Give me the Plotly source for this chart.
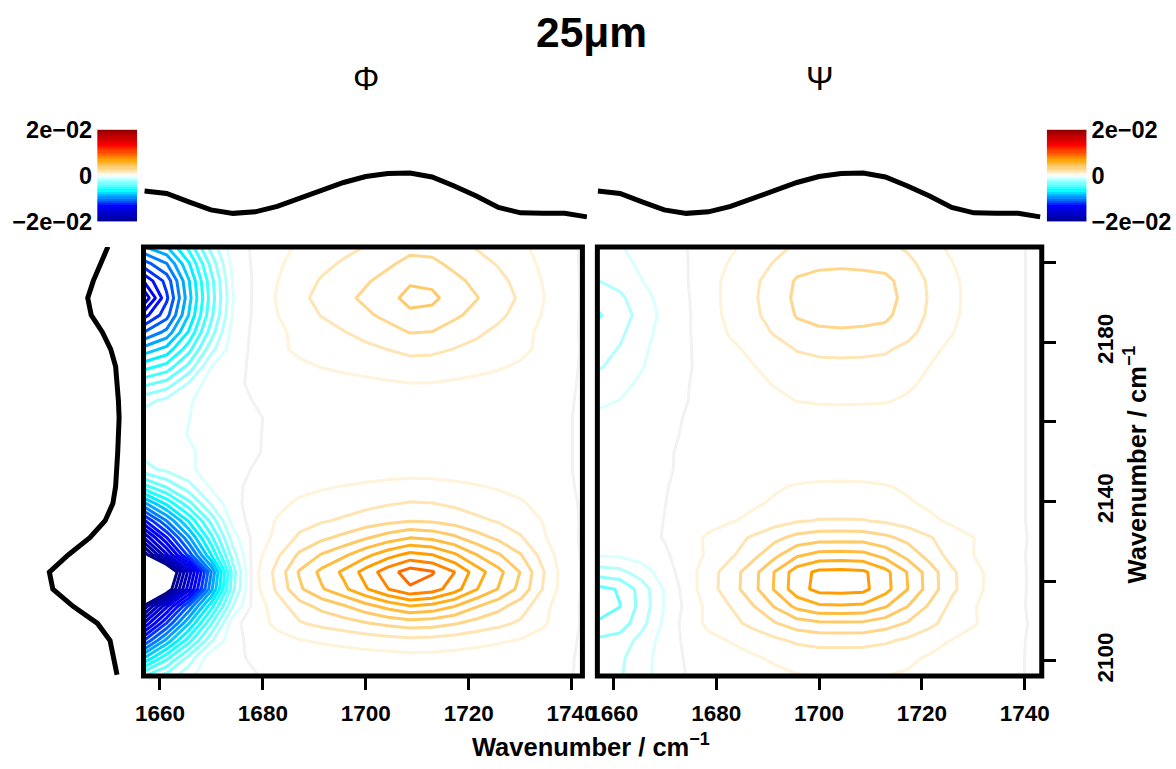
import plotly.graph_objects as go

W, H = 1176, 769
FONT = "Liberation Sans, Arial, Helvetica, sans-serif"

# ---------------- data ----------------
pump_cm = [1657.0, 1661.3, 1665.6, 1669.9, 1674.2, 1678.5, 1682.8, 1687.1, 1691.4, 1695.7,
           1700.0, 1704.3, 1708.6, 1712.9, 1717.2, 1721.5, 1725.8, 1730.1, 1734.4, 1738.7, 1743.0]
probe_cm = [2096.5, 2100.8, 2105.1, 2109.4, 2113.7, 2118.0, 2122.3, 2126.6, 2130.9, 2135.2,
            2139.5, 2143.8, 2148.1, 2152.4, 2156.7, 2161.0, 2165.3, 2169.6, 2173.9, 2178.2,
            2182.5, 2186.8, 2191.1, 2195.4, 2199.7, 2204.0]

# 2D spectra in units of 1e-3 (rows = probe, ascending; cols = pump)
phi_mOD = [
    [-4.2, -2.76, -1.31, -0.3, -0.1, -0.02, 0.16, 0.2, 0.22, 0.24, 0.26, 0.27, 0.29, 0.28, 0.26, 0.24, 0.22, 0.2, 0.16, 0.12, -0.2],
    [-8.0, -5.33, -2.67, -0.3, -0.1, 0.08, 0.31, 0.42, 0.49, 0.54, 0.61, 0.66, 0.71, 0.69, 0.64, 0.56, 0.49, 0.41, 0.29, 0.15, -0.2],
    [-11.9, -8.66, -5.43, -2.19, -0.2, 0.21, 0.65, 0.95, 1.12, 1.26, 1.43, 1.58, 1.7, 1.65, 1.5, 1.3, 1.12, 0.92, 0.59, 0.24, -0.2],
    [-15.8, -11.92, -8.04, -4.16, -0.27, 0.5, 1.26, 1.9, 2.26, 2.55, 2.91, 3.23, 3.48, 3.38, 3.07, 2.63, 2.26, 1.83, 1.15, 0.4, -0.2],
    [-19.6, -15.21, -10.82, -6.43, -1.98, 0.48, 1.5, 2.58, 3.29, 3.88, 4.63, 5.34, 5.93, 5.68, 5.02, 4.07, 3.32, 2.49, 1.34, 0.35, -0.2],
    [-27.4, -21.4, -15.4, -9.37, -3.25, 0.69, 2.19, 3.82, 4.89, 5.77, 6.89, 7.96, 8.84, 8.47, 7.45, 6.05, 4.94, 3.68, 1.96, 0.47, -0.2],
    [-29.5, -23.0, -16.6, -10.1, -3.5, 0.75, 2.35, 4.1, 5.25, 6.2, 7.4, 8.55, 9.5, 9.1, 8.02, 6.5, 5.3, 3.95, 2.1, 0.5, -0.2],
    [-20.7, -16.2, -11.6, -7.08, -2.45, 0.6, 1.83, 3.18, 4.07, 4.8, 5.72, 6.61, 7.34, 7.03, 6.18, 5.03, 4.1, 3.06, 1.64, 0.41, -0.2],
    [-16.9, -13.05, -9.21, -5.36, -1.47, 0.41, 1.27, 2.18, 2.78, 3.27, 3.9, 4.49, 4.99, 4.78, 4.21, 3.43, 2.8, 2.1, 1.14, 0.31, -0.2],
    [-13.1, -9.97, -6.84, -3.71, -0.58, 0.44, 1.07, 1.6, 1.9, 2.14, 2.44, 2.71, 2.92, 2.84, 2.57, 2.21, 1.9, 1.54, 0.97, 0.35, -0.2],
    [-9.2, -6.77, -4.34, -1.92, -0.2, 0.3, 0.78, 1.15, 1.36, 1.53, 1.74, 1.92, 2.07, 2.02, 1.83, 1.58, 1.36, 1.11, 0.71, 0.28, -0.2],
    [-5.3, -3.82, -2.34, -0.86, -0.15, 0.18, 0.48, 0.75, 0.9, 1.02, 1.17, 1.3, 1.41, 1.37, 1.24, 1.06, 0.9, 0.72, 0.44, 0.15, -0.2],
    [-2.3, -1.75, -1.2, -0.5, -0.15, 0.04, 0.19, 0.3, 0.36, 0.41, 0.47, 0.52, 0.56, 0.55, 0.49, 0.42, 0.36, 0.29, 0.17, 0.1, -0.2],
    [-1.7, -1.45, -1.14, -0.68, -0.26, -0.05, 0.15, 0.18, 0.2, 0.22, 0.25, 0.28, 0.3, 0.29, 0.27, 0.24, 0.2, 0.16, 0.12, 0.1, -0.2],
    [-1.45, -1.23, -0.97, -0.58, -0.22, -0.04, 0.1, 0.1, 0.1, 0.11, 0.12, 0.12, 0.12, 0.12, 0.12, 0.11, 0.1, 0.1, 0.1, 0.1, -0.2],
    [-1.5, -1.28, -1.02, -0.6, -0.23, -0.05, 0.1, 0.1, 0.1, 0.1, 0.1, 0.1, 0.1, 0.1, 0.1, 0.1, 0.1, 0.1, 0.1, 0.1, -0.2],
    [-2.34, -1.71, -1.12, -0.45, -0.12, 0.02, 0.2, 0.25, 0.28, 0.31, 0.33, 0.36, 0.39, 0.39, 0.36, 0.33, 0.29, 0.25, 0.2, 0.14, -0.2],
    [-4.25, -3.6, -1.91, -0.4, -0.1, 0.09, 0.4, 0.54, 0.64, 0.72, 0.8, 0.89, 0.98, 0.97, 0.87, 0.78, 0.68, 0.56, 0.39, 0.22, -0.2],
    [-6.4, -5.64, -3.71, -1.03, -0.25, 0.17, 0.61, 0.85, 1.03, 1.17, 1.3, 1.45, 1.61, 1.58, 1.42, 1.26, 1.09, 0.88, 0.6, 0.31, -0.2],
    [-8.56, -7.64, -5.36, -2.38, -0.4, 0.19, 0.83, 1.16, 1.42, 1.61, 1.8, 2.01, 2.24, 2.2, 1.97, 1.74, 1.51, 1.21, 0.8, 0.4, -0.2],
    [-10.96, -9.69, -6.88, -3.54, -0.5, 0.18, 0.8, 1.26, 1.64, 1.96, 2.27, 2.62, 3.04, 2.97, 2.55, 2.17, 1.78, 1.33, 0.77, 0.31, -0.2],
    [-13.37, -11.38, -7.96, -4.3, -0.9, 0.2, 0.98, 1.55, 2.04, 2.43, 2.83, 3.27, 3.8, 3.71, 3.18, 2.7, 2.21, 1.64, 0.94, 0.36, -0.2],
    [-15.78, -12.19, -8.39, -4.59, -1.05, 0.2, 1.1, 1.75, 2.3, 2.75, 3.2, 3.7, 4.3, 4.2, 3.6, 3.05, 2.5, 1.85, 1.05, 0.4, -0.2],
    [-13.82, -11.62, -8.09, -4.39, -0.9, 0.16, 0.98, 1.59, 2.08, 2.49, 2.89, 3.34, 3.88, 3.79, 3.25, 2.76, 2.26, 1.68, 0.96, 0.37, -0.2],
    [-11.41, -10.04, -7.12, -3.71, -0.6, 0.15, 0.86, 1.35, 1.77, 2.11, 2.46, 2.84, 3.29, 3.22, 2.76, 2.34, 1.92, 1.43, 0.82, 0.33, -0.2],
    [-9.0, -8.04, -5.67, -2.62, -0.4, 0.15, 0.72, 1.12, 1.46, 1.74, 2.02, 2.33, 2.7, 2.64, 2.27, 1.93, 1.59, 1.19, 0.69, 0.29, -0.2],
]

psi_mOD = [
    [-2.3, -2.09, -1.36, -0.51, 0.02, 0.33, 0.47, 0.62, 0.8, 0.97, 1.05, 1.05, 1.04, 1.02, 0.92, 0.65, 0.45, 0.32, 0.17, 0.08, -0.2],
    [-2.4, -2.18, -1.42, -0.52, 0.09, 0.48, 0.67, 0.89, 1.14, 1.38, 1.49, 1.5, 1.49, 1.38, 1.18, 0.9, 0.63, 0.43, 0.22, 0.08, -0.2],
    [-2.8, -2.55, -1.65, -0.58, 0.2, 0.75, 1.05, 1.39, 1.79, 2.17, 2.34, 2.35, 2.33, 2.15, 1.82, 1.4, 0.97, 0.67, 0.35, 0.1, -0.2],
    [-3.9, -3.55, -2.3, -0.79, 0.39, 1.22, 1.7, 2.26, 2.91, 3.53, 3.8, 3.82, 3.79, 3.45, 2.9, 2.24, 1.56, 1.08, 0.55, 0.15, -0.2],
    [-4.4, -4.02, -2.6, -0.98, 0.25, 1.28, 2.02, 2.92, 4.08, 5.28, 5.84, 5.88, 5.8, 5.08, 4.02, 2.84, 1.76, 1.08, 0.44, 0.1, -0.2],
    [-4.3, -3.91, -2.54, -0.93, 0.4, 1.6, 2.52, 3.65, 5.1, 6.6, 7.3, 7.35, 7.25, 6.35, 5.02, 3.55, 2.2, 1.35, 0.55, 0.12, -0.2],
    [-2.5, -2.28, -1.48, -0.5, 0.51, 1.58, 2.48, 3.61, 5.05, 6.53, 7.23, 7.28, 7.18, 6.29, 4.95, 3.51, 2.18, 1.34, 0.54, 0.12, -0.2],
    [-0.9, -0.82, -0.53, -0.15, 0.45, 1.17, 1.83, 2.66, 3.72, 4.82, 5.33, 5.37, 5.29, 4.64, 3.65, 2.59, 1.61, 0.99, 0.4, 0.1, -0.2],
    [-0.4, -0.36, -0.24, 0.04, 0.62, 1.15, 1.6, 2.13, 2.74, 3.32, 3.58, 3.6, 3.57, 3.23, 2.7, 2.09, 1.46, 1.01, 0.51, 0.14, -0.2],
    [-0.3, -0.27, -0.18, 0.01, 0.35, 0.66, 0.92, 1.22, 1.57, 1.9, 2.05, 2.06, 2.04, 1.85, 1.54, 1.19, 0.83, 0.58, 0.29, 0.1, -0.2],
    [-0.3, -0.27, -0.18, -0.02, 0.25, 0.47, 0.65, 0.87, 1.12, 1.36, 1.46, 1.47, 1.46, 1.32, 1.1, 0.85, 0.6, 0.41, 0.21, 0.1, -0.2],
    [-0.3, -0.27, -0.18, -0.05, 0.2, 0.37, 0.52, 0.7, 0.89, 1.08, 1.17, 1.18, 1.16, 1.05, 0.88, 0.68, 0.48, 0.33, 0.17, 0.1, -0.2],
    [-0.3, -0.27, -0.18, -0.07, 0.1, 0.19, 0.26, 0.35, 0.45, 0.54, 0.58, 0.59, 0.58, 0.53, 0.44, 0.34, 0.24, 0.17, 0.12, 0.1, -0.2],
    [-0.35, -0.32, -0.2, -0.08, 0.1, 0.12, 0.14, 0.17, 0.2, 0.24, 0.26, 0.26, 0.25, 0.23, 0.19, 0.15, 0.12, 0.1, 0.1, 0.1, -0.2],
    [-0.5, -0.41, -0.25, -0.12, 0.06, 0.1, 0.1, 0.11, 0.15, 0.19, 0.2, 0.21, 0.2, 0.2, 0.17, 0.11, 0.1, 0.1, 0.1, 0.1, -0.2],
    [-0.8, -0.66, -0.4, -0.19, 0.04, 0.13, 0.25, 0.35, 0.48, 0.61, 0.65, 0.66, 0.65, 0.63, 0.52, 0.36, 0.24, 0.12, 0.1, 0.1, -0.2],
    [-1.2, -0.98, -0.6, -0.29, -0.02, 0.22, 0.42, 0.59, 0.8, 1.02, 1.09, 1.1, 1.09, 1.06, 0.88, 0.61, 0.4, 0.21, 0.1, 0.1, -0.2],
    [-1.6, -1.31, -0.8, -0.38, -0.05, 0.29, 0.55, 0.78, 1.05, 1.34, 1.43, 1.45, 1.43, 1.39, 1.16, 0.8, 0.53, 0.27, 0.11, 0.1, -0.2],
    [-2.1, -1.72, -1.05, -0.5, -0.12, 0.33, 0.68, 0.96, 1.3, 1.66, 1.77, 1.79, 1.77, 1.72, 1.43, 0.99, 0.65, 0.34, 0.13, 0.1, -0.2],
    [-2.35, -1.93, -1.18, -0.56, -0.13, 0.41, 0.83, 1.18, 1.6, 2.05, 2.18, 2.21, 2.18, 2.11, 1.76, 1.22, 0.8, 0.42, 0.16, 0.1, -0.2],
    [-2.7, -2.21, -1.35, -0.65, -0.14, 0.55, 1.09, 1.55, 2.1, 2.69, 2.86, 2.9, 2.86, 2.77, 2.31, 1.6, 1.05, 0.55, 0.21, 0.1, -0.2],
    [-3.1, -2.54, -1.55, -0.74, -0.15, 0.62, 1.25, 1.78, 2.4, 3.07, 3.26, 3.31, 3.26, 3.17, 2.64, 1.82, 1.2, 0.62, 0.24, 0.1, -0.2],
    [-2.7, -2.21, -1.35, -0.65, -0.12, 0.66, 1.3, 1.85, 2.5, 3.2, 3.4, 3.45, 3.4, 3.3, 2.75, 1.9, 1.25, 0.65, 0.25, 0.1, -0.2],
    [-2.02, -1.64, -1.02, -0.48, -0.06, 0.68, 1.26, 1.79, 2.43, 3.1, 3.3, 3.35, 3.3, 3.2, 2.67, 1.84, 1.21, 0.63, 0.24, 0.1, -0.2],
    [-1.6, -1.31, -0.8, -0.38, -0.05, 0.58, 1.08, 1.54, 2.08, 2.66, 2.82, 2.86, 2.82, 2.74, 2.28, 1.58, 1.04, 0.54, 0.21, 0.1, -0.2],
    [-1.3, -1.07, -0.65, -0.31, -0.03, 0.47, 0.87, 1.24, 1.68, 2.14, 2.28, 2.31, 2.28, 2.21, 1.84, 1.27, 0.84, 0.44, 0.17, 0.1, -0.2],
]

# linear (marginal) spectra, normalised
pump_spectrum = [0.62, 0.57, 0.40, 0.24, 0.17, 0.20, 0.31, 0.47, 0.63, 0.79, 0.91, 0.97, 0.98,
                 0.90, 0.72, 0.52, 0.29, 0.18, 0.17, 0.17, 0.10]
probe_spectrum = [0.03, 0.08, 0.13, 0.31, 0.66, 0.95, 1.00, 0.73, 0.42, 0.20, 0.09, 0.05, 0.03,
                  0.02, 0.01, 0.00, 0.01, 0.03, 0.05, 0.12, 0.24, 0.40, 0.45, 0.37, 0.26, 0.16]

x_tickvals = [1660, 1680, 1700, 1720, 1740]
y_tickvals = [2100, 2120, 2140, 2160, 2180, 2200]
y_ticktext = ["2100", "", "2140", "", "2180", ""]
cbar_tickvals = [-20, 0, 20]
cbar_ticktext = ["\u22122e\u221202", "0", "2e\u221202"]

# ---------------- styling ----------------
LEVEL_MIN, LEVEL_MAX, LEVEL_STEP = -20, 20, 1
CS_LINES = [[0.0, "#00008B"], [1/6, "#0000FF"], [2/6, "#00FFFF"], [0.49, "#F0FFFF"],
            [0.5, "#F2F2F2"], [0.51, "#FFFBF0"], [4/6, "#FFA500"], [5/6, "#FF0000"], [1.0, "#8B0000"]]
CS_BAR = [[0.0, "#00008B"], [1/6, "#0000FF"], [2/6, "#00FFFF"], [0.5, "#FFFFFF"],
          [4/6, "#FFA500"], [5/6, "#FF0000"], [1.0, "#8B0000"]]

# layout placement, given in target-picture pixels and mapped to paper fractions
SX, OX = 0.984, 6.5
SY, OY = 0.9707, 11.9
FS = 1.024


def fx(p):
    return ((p - OX) / SX) / W


def fy(p):
    return 1 - ((p - OY) / SY) / H


MAIN_YDOM = [fy(678), fy(247)]
Y_RANGE = [2096.2, 2203.9]
TOP_YDOM = [fy(225), fy(165)]

fig = go.Figure()

contour_common = dict(
    x=pump_cm, y=probe_cm, colorscale=CS_LINES, autocontour=False,
    contours=dict(start=LEVEL_MIN, end=LEVEL_MAX, size=LEVEL_STEP, coloring="lines", showlabels=False),
    line=dict(width=3, smoothing=0), showscale=False, hoverinfo="skip",
)
fig.add_trace(go.Contour(z=phi_mOD, xaxis="x", yaxis="y", **contour_common))
fig.add_trace(go.Contour(z=psi_mOD, xaxis="x2", yaxis="y2", **contour_common))

line_style = dict(color="black", width=5)
fig.add_trace(go.Scatter(x=pump_cm, y=pump_spectrum, mode="lines", line=line_style,
                         xaxis="x3", yaxis="y3", hoverinfo="skip"))
fig.add_trace(go.Scatter(x=pump_cm, y=pump_spectrum, mode="lines", line=line_style,
                         xaxis="x4", yaxis="y4", hoverinfo="skip"))
fig.add_trace(go.Scatter(x=probe_spectrum, y=probe_cm, mode="lines", line=line_style,
                         xaxis="x5", yaxis="y5", hoverinfo="skip"))

bands = [k + 0.5 for k in range(LEVEL_MIN, LEVEL_MAX, LEVEL_STEP)]
for xa, ya in (("x6", "y6"), ("x7", "y7")):
    fig.add_trace(go.Heatmap(z=[[b] for b in bands], x=[0], y=bands, colorscale=CS_BAR,
                             zmin=LEVEL_MIN, zmax=LEVEL_MAX, showscale=False,
                             xaxis=xa, yaxis=ya, hoverinfo="skip"))

tickfont = dict(family=FONT, size=22 * FS, color="black", weight="bold")
cbfont = dict(family=FONT, size=23 * FS, color="black", weight="bold")
hidden = dict(visible=False, showgrid=False, zeroline=False)

layout_axes = dict(
    xaxis=dict(domain=[fx(141.5), fx(582)], range=[1656.8, 1742.1], anchor="y",
               tickvals=x_tickvals, ticks="outside", ticklen=13, tickwidth=3, tickcolor="black",
               tickfont=tickfont, ticklabelstandoff=4,
               showgrid=False, zeroline=False, showline=False),
    yaxis=dict(domain=MAIN_YDOM, range=Y_RANGE, anchor="x", showticklabels=False, ticks="",
               showgrid=False, zeroline=False, showline=False),
    xaxis2=dict(domain=[fx(597), fx(1043)], range=[1656.9, 1743.3], anchor="y2",
                tickvals=x_tickvals, ticks="outside", ticklen=13, tickwidth=3, tickcolor="black",
                tickfont=tickfont, ticklabelstandoff=4,
                showgrid=False, zeroline=False, showline=False),
    yaxis2=dict(domain=MAIN_YDOM, range=Y_RANGE, anchor="x2", side="right",
                tickvals=y_tickvals, ticktext=y_ticktext, ticks="outside", ticklen=13, tickwidth=3,
                tickcolor="black", tickangle=-90, tickfont=tickfont, ticklabelstandoff=30,
                showgrid=False, zeroline=False, showline=False),
    xaxis3=dict(domain=[fx(141), fx(587)], range=[1656.7, 1743.1], anchor="y3", **hidden),
    yaxis3=dict(domain=TOP_YDOM, range=[-0.066, 1.134], anchor="x3", **hidden),
    xaxis4=dict(domain=[fx(597), fx(1045)], range=[1656.9, 1743.7], anchor="y4", **hidden),
    yaxis4=dict(domain=TOP_YDOM, range=[-0.066, 1.134], anchor="x4", **hidden),
    xaxis5=dict(domain=[fx(40), fx(125)], range=[1.1, -0.114], anchor="y5", **hidden),
    yaxis5=dict(domain=MAIN_YDOM, range=Y_RANGE, anchor="x5", **hidden),
    xaxis6=dict(domain=[fx(95), fx(135)], range=[-0.5, 0.5], anchor="y6", **hidden),
    yaxis6=dict(domain=[fy(221.7), fy(129)], range=[LEVEL_MIN, LEVEL_MAX], anchor="x6", side="left",
                tickvals=cbar_tickvals, ticktext=cbar_ticktext, ticks="", tickfont=cbfont,
                ticklabelstandoff=4, showgrid=False, zeroline=False, showline=False),
    xaxis7=dict(domain=[fx(1048), fx(1088)], range=[-0.5, 0.5], anchor="y7", **hidden),
    yaxis7=dict(domain=[fy(221.7), fy(129)], range=[LEVEL_MIN, LEVEL_MAX], anchor="x7", side="right",
                tickvals=cbar_tickvals, ticktext=cbar_ticktext, ticks="", tickfont=cbfont,
                ticklabelstandoff=4, showgrid=False, zeroline=False, showline=False),
)

fig.update_layout(
    autosize=True, margin=dict(l=0, r=0, t=0, b=0, pad=0),
    paper_bgcolor="white", plot_bgcolor="white", showlegend=False,
    font=dict(family=FONT, color="black"),
    **layout_axes,
    shapes=[
        dict(type="rect", xref="x domain", yref="y domain", x0=0, x1=1, y0=0, y1=1,
             line=dict(color="black", width=5), layer="above"),
        dict(type="rect", xref="x2 domain", yref="y2 domain", x0=0, x1=1, y0=0, y1=1,
             line=dict(color="black", width=5), layer="above"),
    ],
    annotations=[
        dict(text="<b>25μm</b>", x=fx(591), y=fy(31), xref="paper", yref="paper",
             showarrow=False, font=dict(family=FONT, size=42.5, color="black"),
             xanchor="center", yanchor="middle"),
        dict(text="Φ", x=fx(365), y=fy(78), xref="paper", yref="paper", showarrow=False,
             font=dict(family=FONT, size=33, color="black"), xanchor="center", yanchor="middle"),
        dict(text="Ψ", x=fx(820), y=fy(78), xref="paper", yref="paper", showarrow=False,
             font=dict(family=FONT, size=33, color="black"), xanchor="center", yanchor="middle"),
        dict(text="<b>Wavenumber / cm<sup>\u22121</sup></b>", x=fx(591), y=fy(747),
             xref="paper", yref="paper", showarrow=False,
             font=dict(family=FONT, size=25.5, color="black"), xanchor="center", yanchor="middle"),
        dict(text="<b>Wavenumber / cm<sup>\u22121</sup></b>", x=fx(1137), y=fy(465),
             xref="paper", yref="paper", showarrow=False, textangle=-90,
             font=dict(family=FONT, size=25.5, color="black"), xanchor="center", yanchor="middle"),
    ],
)

fig.write_html(
    "out.html",
    config={"displayModeBar": False},
    default_width="1176px; position:absolute; left:0px; top:0px",
    default_height="769px",
    post_script="document.body.style.margin='0px';",
)
